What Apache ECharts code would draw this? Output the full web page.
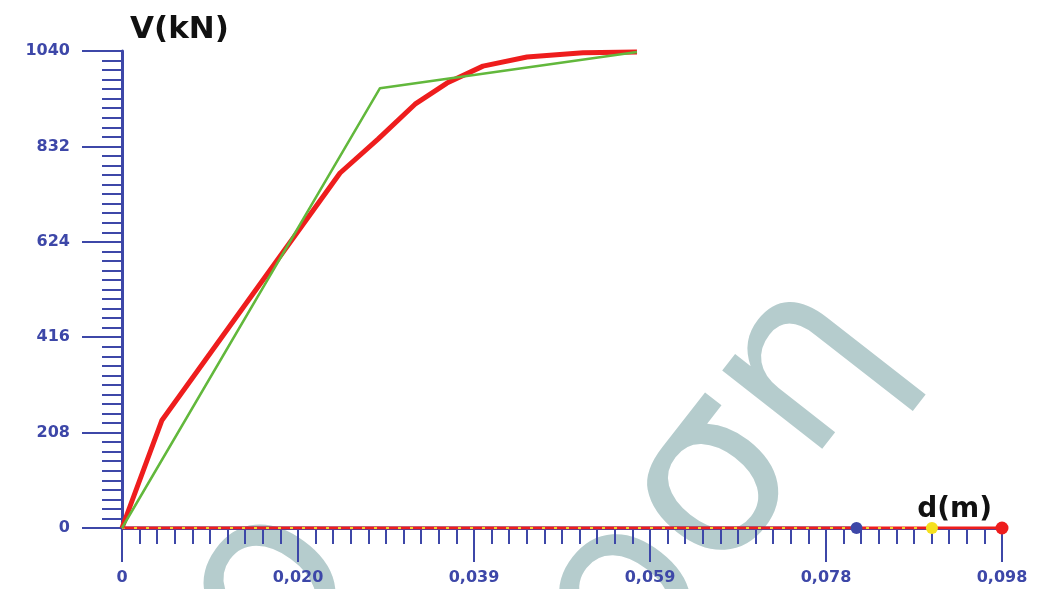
<!DOCTYPE html>
<html>
<head>
<meta charset="utf-8">
<script src="https://cdn.jsdelivr.net/npm/echarts@6/dist/echarts.min.js"></script>
<style>
  html, body { margin: 0; padding: 0; background: #ffffff; }
  #chart { width: 1039px; height: 589px; }
</style>
</head>
<body>
<div id="chart"></div>
<script>
// Shear capacity curve V(kN) against displacement d(m)
const capacityD = [0, 0.00445, 0.02428, 0.02851, 0.03263, 0.03619, 0.04020, 0.04510, 0.05134, 0.05735];
const capacityV = [0, 235, 774, 848, 924, 970, 1007, 1027, 1036, 1038];

// Bilinear idealisation of the capacity curve
const bilinearD = [0, 0.02873, 0.05735];
const bilinearV = [0, 959, 1038];

// Zero-load traces along the displacement axis, ending at their limit points
const traceRedD = [0, 0.098];
const traceRedV = [0, 0];
const traceYellowD = [0, 0.0902];
const traceYellowV = [0, 0];
const traceBlueD = [0, 0.0818];
const traceBlueV = [0, 0];

// Axis ticks
const xTickStep = 0.0196;
const xTickLabels = ['0', '0,020', '0,039', '0,059', '0,078', '0,098'];
const yTickStep = 208;
const yTickLabels = ['0', '208', '416', '624', '832', '1040'];

const axisBlue = '#3d47a8';
const pairs = (xs, ys) => xs.map((x, i) => [x, ys[i]]);

const chart = echarts.init(document.getElementById('chart'), null, { renderer: 'canvas' });

const labelFont = {
  color: axisBlue,
  fontFamily: 'DejaVu Sans',
  fontWeight: 'bold',
  fontSize: 16
};

const stampStyle = {
  font: 'normal 232px "DejaVu Sans"',
  fill: '#b5cccd',
  align: 'center',
  verticalAlign: 'middle'
};

const option = {
  backgroundColor: '#ffffff',
  animation: false,
  grid: { left: 122, right: 37, top: 51, bottom: 61, containLabel: false },
  graphic: [
    {
      type: 'group',
      z: -5,
      silent: true,
      children: [
        {
          type: 'text',
          x: 718, y: 484,
          rotation: 52 * Math.PI / 180,
          style: Object.assign({ text: 'οση' }, stampStyle)
        },
        {
          type: 'text',
          x: 272, y: 590,
          rotation: 54 * Math.PI / 180,
          style: Object.assign({ text: 'ο' }, stampStyle)
        }
      ]
    }
  ],
  xAxis: {
    type: 'value',
    min: 0,
    max: 0.098,
    interval: xTickStep,
    name: 'd(m)',
    nameLocation: 'end',
    nameGap: -10,
    nameTextStyle: {
      color: '#111111',
      fontFamily: 'DejaVu Sans',
      fontWeight: 'bold',
      fontSize: 28,
      align: 'right',
      verticalAlign: 'bottom',
      padding: [0, 0, 4, 0]
    },
    axisLine: { show: true, onZero: false, lineStyle: { color: axisBlue, width: 3 } },
    axisTick: { show: true, length: 34, lineStyle: { color: axisBlue, width: 2 } },
    minorTick: { show: true, splitNumber: 10, length: 16, lineStyle: { color: axisBlue, width: 2 } },
    splitLine: { show: false },
    axisLabel: {
      margin: 42,
      ...labelFont,
      formatter: v => xTickLabels[Math.round(v / xTickStep)] || ''
    }
  },
  yAxis: {
    type: 'value',
    min: 0,
    max: 1040,
    interval: yTickStep,
    name: 'V(kN)',
    nameLocation: 'end',
    nameGap: 6,
    nameTextStyle: {
      color: '#111111',
      fontFamily: 'DejaVu Sans',
      fontWeight: 'bold',
      fontSize: 31,
      align: 'left',
      verticalAlign: 'bottom',
      padding: [0, 0, 0, 8]
    },
    axisLine: { show: true, lineStyle: { color: axisBlue, width: 3 } },
    axisTick: { show: true, length: 40, lineStyle: { color: axisBlue, width: 2 } },
    minorTick: { show: true, splitNumber: 10, length: 20, lineStyle: { color: axisBlue, width: 2 } },
    splitLine: { show: false },
    axisLabel: {
      margin: 52,
      ...labelFont,
      formatter: v => yTickLabels[Math.round(v / yTickStep)] || ''
    }
  },
  series: [
    {
      name: 'blue trace',
      type: 'line',
      data: pairs(traceBlueD, traceBlueV),
      showSymbol: false,
      lineStyle: { color: '#3d47a8', width: 3 },
      z: 3,
      markPoint: {
        z: 10,
        symbol: 'circle', symbolSize: 12,
        itemStyle: { color: '#3d47a8', borderWidth: 0 },
        label: { show: false },
        data: [{ coord: [traceBlueD[1], traceBlueV[1]] }]
      }
    },
    {
      name: 'red trace',
      type: 'line',
      data: pairs(traceRedD, traceRedV),
      showSymbol: false,
      lineStyle: { color: '#ee1d1d', width: 3 },
      z: 4,
      markPoint: {
        z: 10,
        symbol: 'circle', symbolSize: 13,
        itemStyle: { color: '#ee1d1d', borderWidth: 0 },
        label: { show: false },
        data: [{ coord: [traceRedD[1], traceRedV[1]] }]
      }
    },
    {
      name: 'yellow trace',
      type: 'line',
      data: pairs(traceYellowD, traceYellowV),
      showSymbol: false,
      lineStyle: { color: '#f2d22a', width: 2, type: [3, 9] },
      z: 5,
      markPoint: {
        z: 11,
        symbol: 'circle', symbolSize: 12,
        itemStyle: { color: '#f5e01e', borderWidth: 0 },
        label: { show: false },
        data: [{ coord: [traceYellowD[1], traceYellowV[1]] }]
      }
    },
    {
      name: 'capacity',
      type: 'line',
      data: pairs(capacityD, capacityV),
      showSymbol: false,
      smooth: false,
      lineStyle: { color: '#ee1d1d', width: 5 },
      z: 6
    },
    {
      name: 'bilinear',
      type: 'line',
      data: pairs(bilinearD, bilinearV),
      showSymbol: false,
      lineStyle: { color: '#62b83c', width: 2.5 },
      z: 7
    }
  ]
};

chart.setOption(option);
</script>
</body>
</html>
